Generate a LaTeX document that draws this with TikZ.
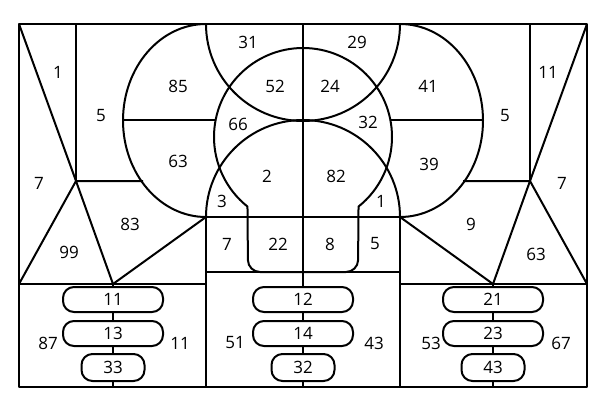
\documentclass[tikz,border=0pt]{standalone}
\usepackage{fontspec}
\setmainfont{Open Sans}
\begin{document}
\begin{tikzpicture}[x=1pt,y=-1pt,line width=2pt,line join=round,
  num/.style={font=\fontsize{17}{19}\selectfont,inner sep=0pt},
  pill/.style={draw,fill=white,rounded corners=11pt,minimum height=25pt,inner sep=0pt,font=\fontsize{17}{19}\selectfont},
  bigpill/.style={pill,minimum width=100pt},
  smallpill/.style={pill,minimum width=63pt,minimum height=27pt}]
\useasboundingbox (0,0) rectangle (600,420);
% named points
\coordinate (tl) at (19,24); \coordinate (tr) at (587,24);
\coordinate (bl) at (19,387); \coordinate (br) at (587,387);
\coordinate (L) at (76,181); \coordinate (R) at (530,181);
\coordinate (Lb) at (113,284); \coordinate (Rb) at (493,284);
\coordinate (Lc) at (206,217); \coordinate (Rc) at (400,217);
% frame
\draw (tl) rectangle (br);
% left triangles
\draw (76,24) -- (L);
\draw (tl) -- (L) -- (Lb);
\draw (19,284) -- (L) -- (143,181);
\draw (Lb) -- (Lc);
\draw (19,284) -- (206,284);
% right triangles
\draw (530,24) -- (R);
\draw (tr) -- (R) -- (Rb);
\draw (587,284) -- (R) -- (463,181);
\draw (Rb) -- (Rc);
\draw (400,284) -- (587,284);
% big ellipses
\draw (206,24) arc[start angle=270,end angle=90,x radius=83,y radius=96.5];
\draw (400,24) arc[start angle=270,end angle=450,x radius=83,y radius=96.5];
\draw (124,120) -- (215.6,120);
\draw (390.4,120) -- (482,120);
% top half circle
\draw (206,24) arc[start angle=180,end angle=0,radius=97];
% lower arcs
\draw (206,217) arc[start angle=180,end angle=360,radius=97];
% bulb
\draw (303,48) arc[start angle=270,end angle=128.6,radius=89] [rounded corners=12pt] -- (248,272) -- (303,272);
\draw (303,48) arc[start angle=270,end angle=411.4,radius=89] [rounded corners=12pt] -- (358,272) -- (303,272);
% middle block
\draw (Lc) -- (Rc);
\draw (206,272) -- (400,272);
\draw (Lc) -- (206,387);
\draw (Rc) -- (400,387);
\draw (303,24) -- (303,387);
\draw (Lb) -- (113,387);
\draw (Rb) -- (493,387);
% pills
\foreach \cx/\a/\b/\c/\n in {113/11/13/33/l,303/12/14/32/m,493/21/23/43/r}{
  \node[bigpill] (\n1) at (\cx,299.5) {\a};
  \node[bigpill] (\n2) at (\cx,333.5) {\b};
  \node[smallpill] (\n3) at (\cx,367.5) {\c};
}
% labels
\foreach \x/\y/\t [count=\i] in {58/72/1,101/116/5,39/183/7,69/252/99,130/224/83,178/86/85,178/161/63,
  248/42/31,275/86/52,238/124/66,267/176/2,222/201/3,227/244/7,278/244/22,
  330/86/24,357/42/29,368/122/32,336/176/82,381/201/1,330/244/8,375/244/5,
  428/86/41,429/164/39,505/116/5,548/72/11,562/183/7,471/224/9,536/254/63,
  48/343/87,180/343/11,235/343/51,374/343/43,431/343/53,561/343/67}
  \node[num] (t\i) at (\x,\y) {\t};
\end{tikzpicture}
\end{document}
